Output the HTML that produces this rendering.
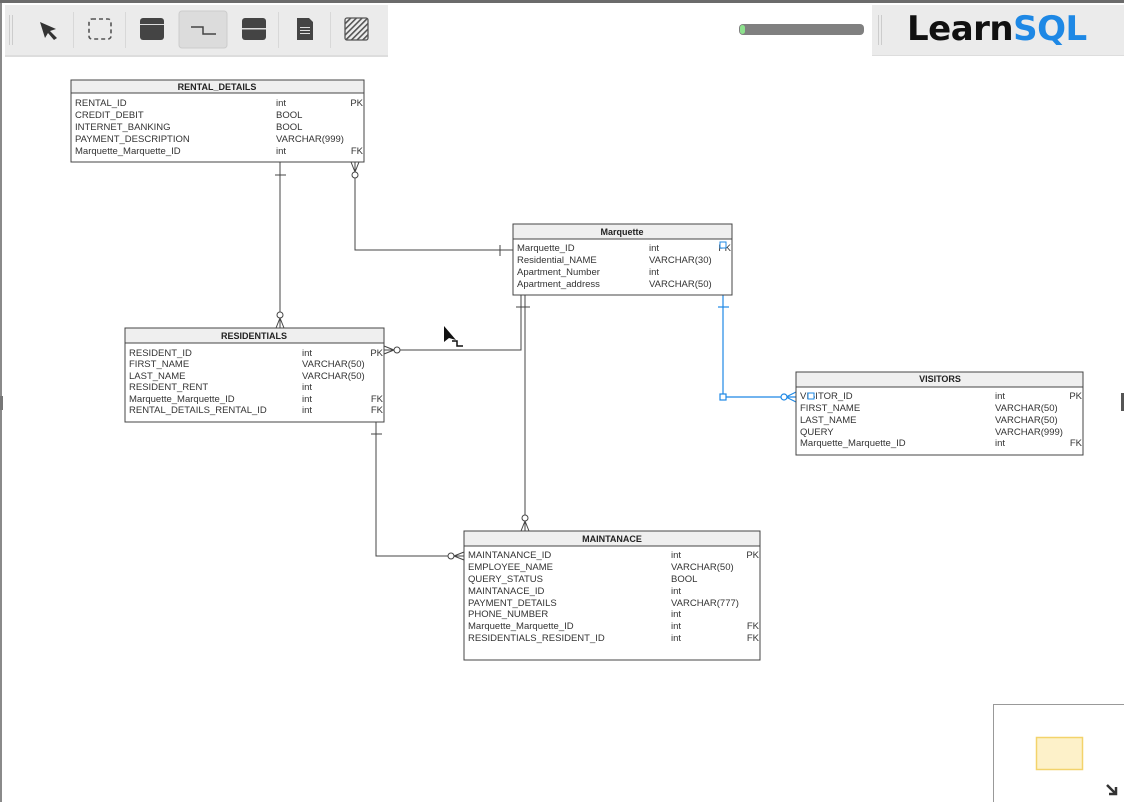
<!DOCTYPE html>
<html><head><meta charset="utf-8"><style>
html,body{margin:0;padding:0;background:#fff;}
body{width:1124px;height:802px;overflow:hidden;position:relative;font-family:"Liberation Sans",Arial,sans-serif;}
svg{position:absolute;left:0;top:0;}
.t{font-size:9.5px;fill:#333;}
.h{font-size:9px;font-weight:bold;fill:#222;text-anchor:middle;}
.r{text-anchor:end;}
</style></head><body>
<svg width="1124" height="802" viewBox="0 0 1124 802">
<defs>
<pattern id="hatch" width="4" height="4" patternUnits="userSpaceOnUse" patternTransform="rotate(45)"><rect width="4" height="4" fill="#eee"/><rect width="1.6" height="4" fill="#555"/></pattern>
</defs>
<rect x="0" y="0" width="1124" height="3" fill="#6b6b6b"/>
<rect x="0" y="3" width="2" height="799" fill="#8a8a8a"/>
<rect x="0" y="396" width="3" height="14" fill="#777"/>
<rect x="1121" y="393" width="3" height="18" fill="#555"/>

<!-- toolbar -->
<rect x="5" y="5" width="383" height="50" fill="#ebebeb"/>
<rect x="5" y="55" width="383" height="2" fill="#ddd"/>
<g fill="#ccc"><rect x="9" y="15" width="1" height="30"/><rect x="12" y="15" width="1" height="30"/></g>
<g fill="#d8d8d8"><rect x="73" y="12" width="1" height="36"/><rect x="125" y="12" width="1" height="36"/><rect x="278" y="12" width="1" height="36"/><rect x="330" y="12" width="1" height="36"/></g>
<rect x="179" y="11" width="48" height="37" rx="3" fill="#dcdcdc" stroke="#ccc"/>
<path d="M40 22 L56 29 L50 31 L57 38 L54 40 L48 33 L45 38 Z" fill="#333"/>
<rect x="89" y="19" width="22" height="20" rx="3" fill="none" stroke="#555" stroke-width="1.6" stroke-dasharray="4 3"/>
<rect x="140" y="18" width="24" height="22" rx="3" fill="#444"/><rect x="140" y="24" width="24" height="1" fill="#ddd"/>
<path d="M191 27 H203 V34 H216" fill="none" stroke="#444" stroke-width="1.5"/>
<rect x="242" y="18" width="24" height="22" rx="3" fill="#444"/><rect x="242" y="28" width="24" height="1.5" fill="#ddd"/>
<path d="M297 18 H309 L313 22 V40 H297 Z" fill="#444"/><g fill="#ddd"><rect x="300" y="27" width="10" height="1"/><rect x="300" y="30" width="10" height="1"/><rect x="300" y="33" width="10" height="1"/></g>
<rect x="345" y="18" width="23" height="22" rx="2" fill="url(#hatch)" stroke="#555" stroke-width="1.3"/>

<!-- slider -->
<rect x="739" y="24" width="125" height="11" rx="4" fill="#808080"/>
<rect x="740" y="25" width="5" height="9" rx="2.5" fill="#8de28d"/>
<!-- logo -->
<rect x="872" y="5" width="252" height="50" fill="#ebebeb"/>
<rect x="872" y="55" width="252" height="1" fill="#ddd"/>
<g fill="#ccc"><rect x="878" y="15" width="1" height="30"/><rect x="881" y="15" width="1" height="30"/></g>
<text x="907" y="40" font-size="34" font-weight="bold" fill="#111" style="font-family:'DejaVu Sans',sans-serif;letter-spacing:-0.5px">Learn<tspan fill="#1e88e5">SQL</tspan></text>

<!-- connectors -->
<g stroke="#444" stroke-width="1" fill="none">
<path d="M280 162 V328"/><path d="M275 175 H286"/>
<path d="M280 318 L276 328 M280 318 L284 328 M280 318 V328"/><circle cx="280" cy="315" r="3" fill="#fff"/>
<path d="M355 162 V250 H513"/><path d="M500 245 V256"/>
<path d="M355 172 L351 162 M355 172 L359 162"/><circle cx="355" cy="175" r="3" fill="#fff"/>
<path d="M384 350 H521 V295"/><path d="M394 350 L384 346 M394 350 L384 354"/><circle cx="397" cy="350" r="3" fill="#fff"/>
<path d="M525 295 V531"/><path d="M516 307 H530"/>
<path d="M525 521 L521 531 M525 521 L529 531"/><circle cx="525" cy="518" r="3" fill="#fff"/>
<path d="M376 422 V556 H464"/><path d="M371 434 H382"/>
<path d="M454 556 L464 552 M454 556 L464 560"/><circle cx="451" cy="556" r="3" fill="#fff"/>
</g>
<g stroke="#1e88e5" stroke-width="1.2" fill="none">
<path d="M723 295 V397 H796"/><path d="M718 307 H729"/>
<rect x="720" y="394" width="6" height="6" fill="#fff"/>
<path d="M786 397 L796 392 M786 397 L796 402"/><circle cx="784" cy="397" r="3" fill="#fff"/>
<rect x="808" y="392" width="6" height="6" fill="#fff"/>
<rect x="720" y="242" width="6" height="6" fill="#fff"/>
</g>

<!-- RENTAL_DETAILS -->
<rect x="71" y="80" width="293" height="82" fill="#fff" stroke="#444"/>
<rect x="71" y="80" width="293" height="13" fill="#efefef" stroke="#444"/>
<text class="h" x="217" y="90">RENTAL_DETAILS</text>
<g class="t"><text x="75" y="106">RENTAL_ID</text><text x="75" y="118">CREDIT_DEBIT</text><text x="75" y="130">INTERNET_BANKING</text><text x="75" y="142">PAYMENT_DESCRIPTION</text><text x="75" y="154">Marquette_Marquette_ID</text>
<text x="276" y="106">int</text><text x="276" y="118">BOOL</text><text x="276" y="130">BOOL</text><text x="276" y="142">VARCHAR(999)</text><text x="276" y="154">int</text>
<text class="r" x="363" y="106">PK</text><text class="r" x="363" y="154">FK</text></g>

<!-- Marquette -->
<rect x="513" y="224" width="219" height="71" fill="#fff" stroke="#444"/>
<rect x="513" y="224" width="219" height="15" fill="#efefef" stroke="#444"/>
<text class="h" x="622" y="235">Marquette</text>
<g class="t"><text x="517" y="251">Marquette_ID</text><text x="517" y="263">Residential_NAME</text><text x="517" y="275">Apartment_Number</text><text x="517" y="287">Apartment_address</text>
<text x="649" y="251">int</text><text x="649" y="263">VARCHAR(30)</text><text x="649" y="275">int</text><text x="649" y="287">VARCHAR(50)</text>
<text class="r" x="731" y="251">PK</text></g>
<rect x="720" y="242" width="6" height="6" fill="#fff" stroke="#1e88e5"/>

<!-- RESIDENTIALS -->
<rect x="125" y="328" width="259" height="94" fill="#fff" stroke="#444"/>
<rect x="125" y="328" width="259" height="15" fill="#efefef" stroke="#444"/>
<text class="h" x="254" y="339">RESIDENTIALS</text>
<g class="t"><text x="129" y="356">RESIDENT_ID</text><text x="129" y="367">FIRST_NAME</text><text x="129" y="379">LAST_NAME</text><text x="129" y="390">RESIDENT_RENT</text><text x="129" y="402">Marquette_Marquette_ID</text><text x="129" y="413">RENTAL_DETAILS_RENTAL_ID</text>
<text x="302" y="356">int</text><text x="302" y="367">VARCHAR(50)</text><text x="302" y="379">VARCHAR(50)</text><text x="302" y="390">int</text><text x="302" y="402">int</text><text x="302" y="413">int</text>
<text class="r" x="383" y="356">PK</text><text class="r" x="383" y="402">FK</text><text class="r" x="383" y="413">FK</text></g>

<!-- VISITORS -->
<rect x="796" y="372" width="287" height="83" fill="#fff" stroke="#444"/>
<rect x="796" y="372" width="287" height="15" fill="#efefef" stroke="#444"/>
<text class="h" x="940" y="382">VISITORS</text>
<g class="t"><text x="800" y="399">VISITOR_ID</text><text x="800" y="411">FIRST_NAME</text><text x="800" y="423">LAST_NAME</text><text x="800" y="435">QUERY</text><text x="800" y="446">Marquette_Marquette_ID</text>
<text x="995" y="399">int</text><text x="995" y="411">VARCHAR(50)</text><text x="995" y="423">VARCHAR(50)</text><text x="995" y="435">VARCHAR(999)</text><text x="995" y="446">int</text>
<text class="r" x="1082" y="399">PK</text><text class="r" x="1082" y="446">FK</text></g>
<rect x="808" y="393" width="6" height="6" fill="#fff" stroke="#1e88e5"/>

<!-- MAINTANACE -->
<rect x="464" y="531" width="296" height="129" fill="#fff" stroke="#444"/>
<rect x="464" y="531" width="296" height="15" fill="#efefef" stroke="#444"/>
<text class="h" x="612" y="542">MAINTANACE</text>
<g class="t"><text x="468" y="558">MAINTANANCE_ID</text><text x="468" y="570">EMPLOYEE_NAME</text><text x="468" y="582">QUERY_STATUS</text><text x="468" y="594">MAINTANACE_ID</text><text x="468" y="606">PAYMENT_DETAILS</text><text x="468" y="617">PHONE_NUMBER</text><text x="468" y="629">Marquette_Marquette_ID</text><text x="468" y="641">RESIDENTIALS_RESIDENT_ID</text>
<text x="671" y="558">int</text><text x="671" y="570">VARCHAR(50)</text><text x="671" y="582">BOOL</text><text x="671" y="594">int</text><text x="671" y="606">VARCHAR(777)</text><text x="671" y="617">int</text><text x="671" y="629">int</text><text x="671" y="641">int</text>
<text class="r" x="759" y="558">PK</text><text class="r" x="759" y="629">FK</text><text class="r" x="759" y="641">FK</text></g>

<!-- cursor -->
<path d="M444 326 V342 L449 338 L456 340 Z" fill="#111"/>
<path d="M452 341 H457 V346 H463" fill="none" stroke="#111" stroke-width="1.5"/>

<!-- minimap -->
<rect x="993.5" y="704.5" width="131" height="100" fill="#fff" stroke="#999"/>
<rect x="1036.5" y="737.5" width="46" height="32" fill="#fdf1c9" stroke="#f3d36b" stroke-width="1.5"/>
<path d="M1107 785 L1115 793 M1116 787 V794 H1109" stroke="#333" stroke-width="2.5" fill="none"/>
</svg>
</body></html>
